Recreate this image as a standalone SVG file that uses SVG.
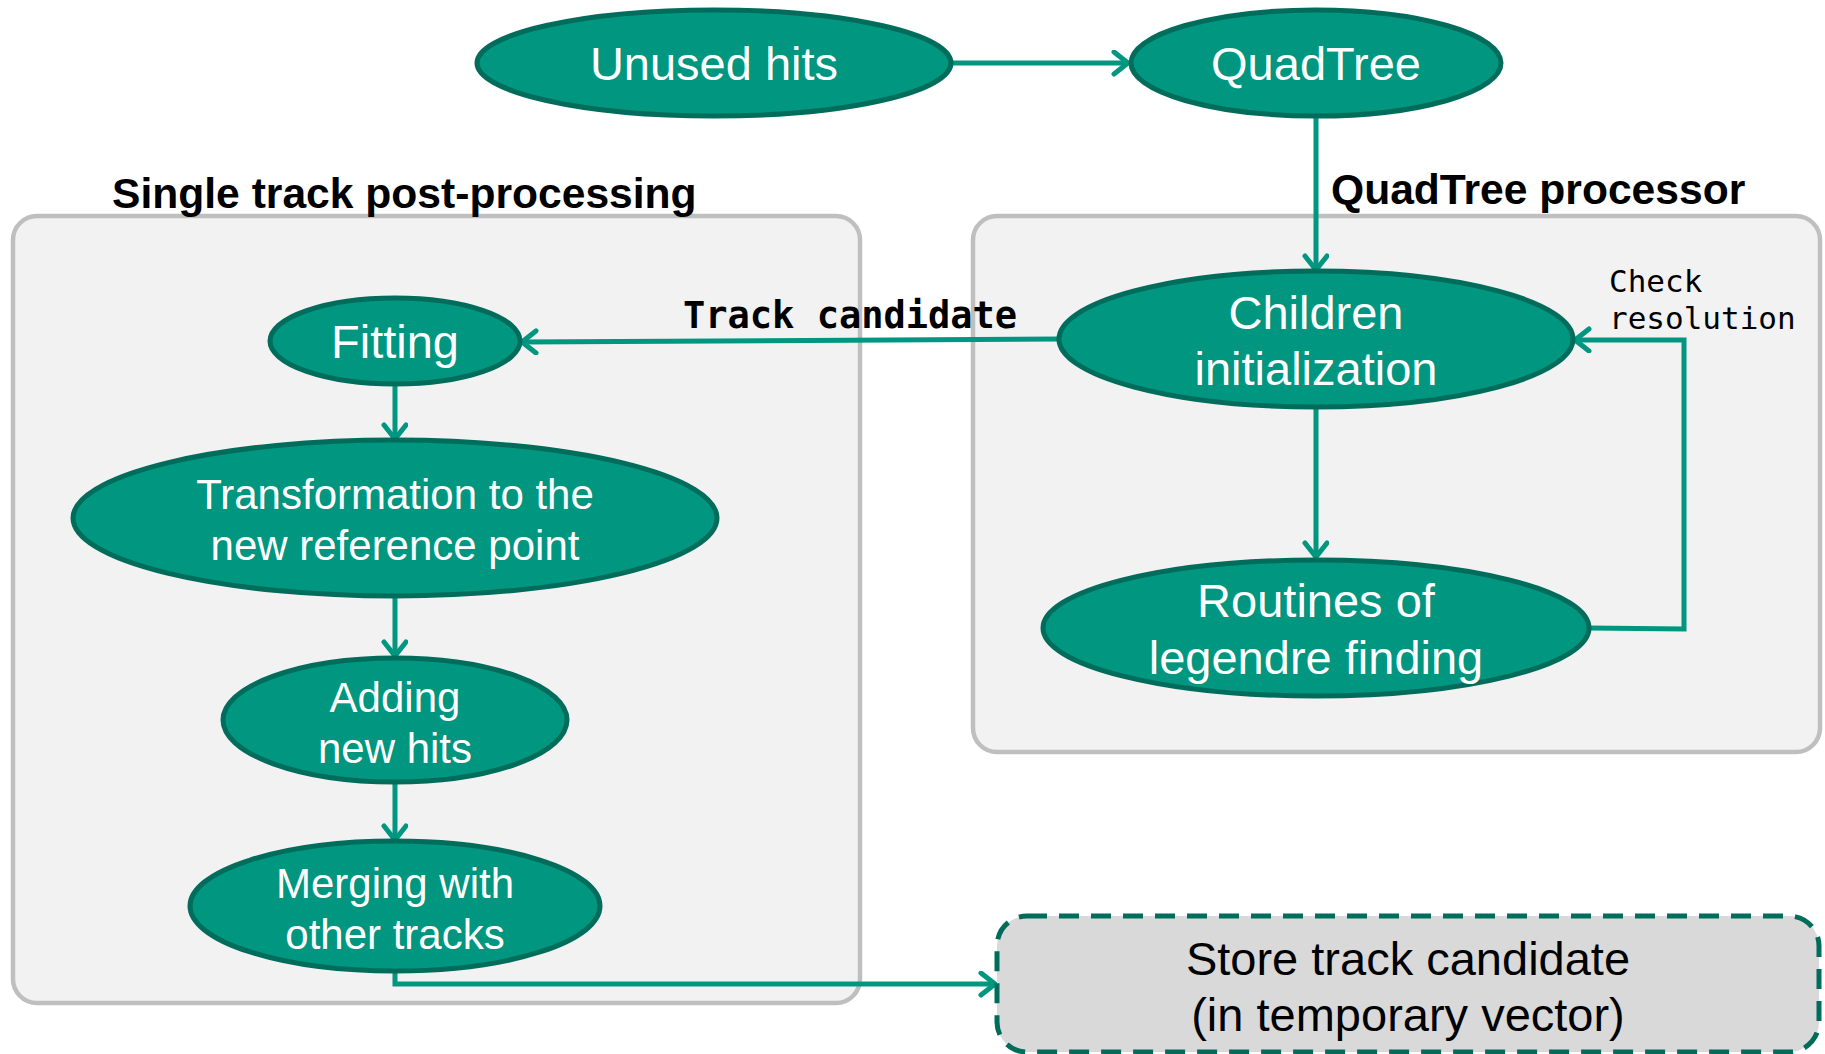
<svg xmlns="http://www.w3.org/2000/svg" width="1825" height="1054" viewBox="0 0 1825 1054">
  <style>
    .panel { fill: #f2f2f2; stroke: #bfbfbf; stroke-width: 4.5; }
    .node ellipse { fill: #00967f; stroke: #006c5b; stroke-width: 5; }
    .node text { font-family: "Liberation Sans", Arial, sans-serif; fill: #ffffff; text-anchor: middle; }
    .title { font-family: "Liberation Sans", Arial, sans-serif; font-weight: bold; font-size: 42.6px; fill: #000000; }
    .mono { font-family: "DejaVu Sans Mono", "Liberation Mono", monospace; fill: #000000; }
    .edge { fill: none; stroke: #00967f; stroke-width: 5; marker-end: url(#arrow); }
    .store rect { fill: #d9d9d9; stroke: #006c5b; stroke-width: 5; stroke-dasharray: 20 12; }
    .store text { font-family: "Liberation Sans", Arial, sans-serif; font-size: 47px; fill: #000000; text-anchor: middle; }
  </style>
  <defs>
    <marker id="arrow" markerUnits="userSpaceOnUse" markerWidth="24" markerHeight="30" refX="17" refY="13" orient="auto">
      <path d="M3,2 L17,13 L3,24" fill="none" stroke="#00967f" stroke-width="5" stroke-linecap="round" stroke-linejoin="round"/>
    </marker>
  </defs>

  <rect width="1825" height="1054" fill="#ffffff"/>

  <!-- Containers -->
  <g id="panel-post">
    <rect class="panel" x="13" y="216" width="847" height="787" rx="24"/>
    <text class="title" x="112" y="208">Single track post-processing</text>
  </g>
  <g id="panel-quadtree">
    <rect class="panel" x="973" y="216" width="847" height="536" rx="24"/>
    <text class="title" x="1331" y="204">QuadTree processor</text>
  </g>

  <!-- Connectors -->
  <g id="connectors">
    <path class="edge" d="M951,63 L1128,63"/>
    <path class="edge" d="M1316,117 L1316,270"/>
    <path class="edge" d="M1059,339 L522,342"/>
    <path class="edge" d="M1316,409 L1316,557"/>
    <path class="edge" d="M1589,628 L1684,629 L1684,340 L1575,340"/>
    <path class="edge" d="M395,384 L395,439"/>
    <path class="edge" d="M395,597 L395,656"/>
    <path class="edge" d="M395,783 L395,840"/>
    <path class="edge" d="M395,972 L395,984 L995,984"/>
    <text class="mono" x="683" y="328" font-size="37" font-weight="bold">Track candidate</text>
    <text class="mono" x="1609" y="292" font-size="31">Check</text>
    <text class="mono" x="1609" y="329" font-size="31">resolution</text>
  </g>

  <!-- Nodes -->
  <g id="unused-hits" class="node">
    <ellipse cx="714" cy="63" rx="237" ry="53"/>
    <text x="714" y="80" font-size="47">Unused hits</text>
  </g>
  <g id="quadtree" class="node">
    <ellipse cx="1316" cy="63" rx="185" ry="53"/>
    <text x="1316" y="80" font-size="47">QuadTree</text>
  </g>
  <g id="children-init" class="node">
    <ellipse cx="1316" cy="339" rx="257" ry="68"/>
    <text x="1316" y="329" font-size="47">Children</text>
    <text x="1316" y="385" font-size="47">initialization</text>
  </g>
  <g id="legendre-routines" class="node">
    <ellipse cx="1316" cy="628" rx="273" ry="68"/>
    <text x="1316" y="617" font-size="47">Routines of</text>
    <text x="1316" y="674" font-size="47">legendre finding</text>
  </g>
  <g id="fitting" class="node">
    <ellipse cx="395" cy="341" rx="125" ry="43"/>
    <text x="395" y="358" font-size="47">Fitting</text>
  </g>
  <g id="transformation" class="node">
    <ellipse cx="395" cy="518" rx="322" ry="78"/>
    <text x="395" y="509" font-size="42">Transformation to the</text>
    <text x="395" y="560" font-size="42">new reference point</text>
  </g>
  <g id="adding-hits" class="node">
    <ellipse cx="395" cy="720" rx="172" ry="62"/>
    <text x="395" y="712" font-size="42">Adding</text>
    <text x="395" y="763" font-size="42">new hits</text>
  </g>
  <g id="merging" class="node">
    <ellipse cx="395" cy="906" rx="205" ry="65"/>
    <text x="395" y="898" font-size="42">Merging with</text>
    <text x="395" y="949" font-size="42">other tracks</text>
  </g>
  <g id="store-candidate" class="store">
    <rect x="997" y="916" width="822" height="136" rx="30"/>
    <text x="1408" y="975">Store track candidate</text>
    <text x="1408" y="1031">(in temporary vector)</text>
  </g>
</svg>
